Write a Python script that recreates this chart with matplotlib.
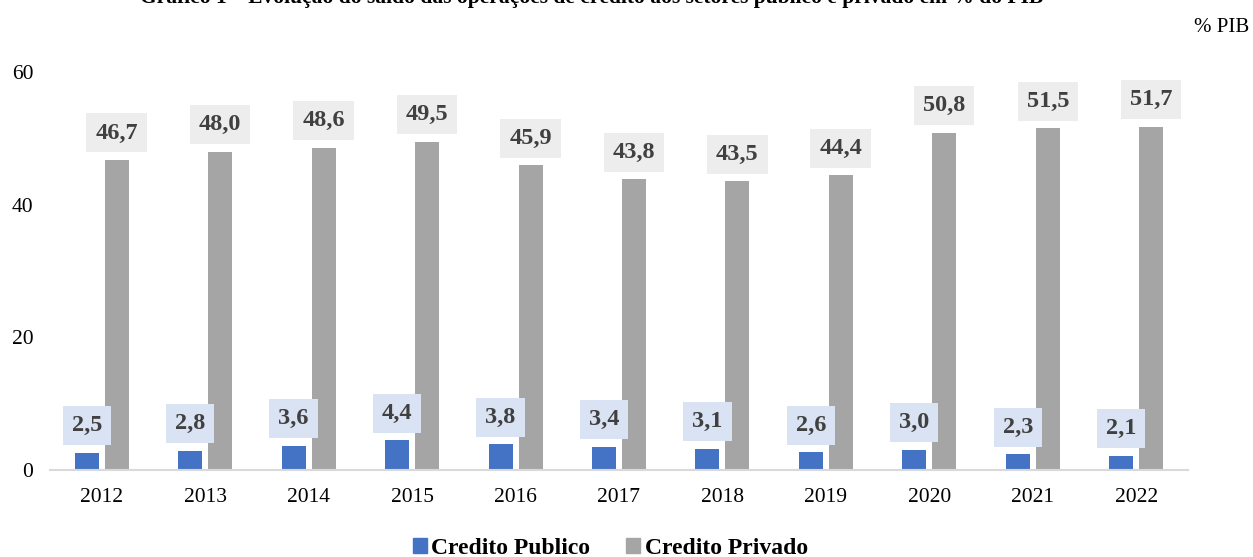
import numpy as np
import matplotlib
matplotlib.use("Agg")
import matplotlib.pyplot as plt
from matplotlib.patches import Patch

plt.rcParams['font.family'] = ['Liberation Serif', 'DejaVu Serif']

anos = ['2012', '2013', '2014', '2015', '2016', '2017', '2018', '2019', '2020', '2021', '2022']
credito_publico = [2.5, 2.8, 3.6, 4.4, 3.8, 3.4, 3.1, 2.6, 3.0, 2.3, 2.1]
credito_privado = [46.7, 48.0, 48.6, 49.5, 45.9, 43.8, 43.5, 44.4, 50.8, 51.5, 51.7]

AZUL = '#4472C4'
CINZA = '#A5A5A5'
TEXTO = '#404040'

fig = plt.figure(figsize=(12.53, 5.57), dpi=100)
ax = fig.add_axes([0.0399, 0.157, 0.9082, 0.7137])

x = np.arange(len(anos))
larg = 0.232
desl = 0.145

b1 = ax.bar(x - desl, credito_publico, larg, color=AZUL, zorder=2)
b2 = ax.bar(x + desl, credito_privado, larg, color=CINZA, zorder=2)


def rotulos(barras, valores, cor_caixa):
    for b, v in zip(barras, valores):
        ax.annotate(f"{v:.1f}".replace('.', ','),
                    (b.get_x() + b.get_width() / 2, v),
                    xytext=(0, 12), textcoords='offset points',
                    ha='center', va='bottom', fontsize=17.5, fontweight='bold',
                    color=TEXTO, clip_on=False, zorder=3,
                    bbox=dict(boxstyle='square,pad=0.37', fc=cor_caixa, ec='none'))


rotulos(b1, credito_publico, '#DAE3F3')
rotulos(b2, credito_privado, '#EDEDED')

ax.set_xlim(-0.5, len(anos) - 0.5)
ax.set_ylim(0, 60)
ax.set_yticks([0, 20, 40, 60])
ax.set_xticks(x)
ax.set_xticklabels(anos)
ax.tick_params(axis='both', length=0, labelsize=15.5, colors='black')
ax.tick_params(axis='y', pad=12)
ax.tick_params(axis='x', pad=13)

for lado in ['top', 'right', 'left']:
    ax.spines[lado].set_visible(False)
ax.spines['bottom'].set_color('#D9D9D9')
ax.spines['bottom'].set_linewidth(1.5)

fig.text(0.4725, 0.9955,
         'Gráfico 1 – Evolução do saldo das operações de crédito aos setores público e privado em % do PIB',
         ha='center', va='baseline', fontsize=15.5, fontweight='bold')
fig.text(0.997, 0.95, '% PIB', ha='right', va='center', fontsize=15)

alcas = [Patch(color=AZUL), Patch(color=CINZA)]
fig.legend(alcas, ['Credito Publico', 'Credito Privado'], loc='center',
           bbox_to_anchor=(0.487, 0.016), ncol=2, frameon=False,
           prop={'size': 17, 'weight': 'bold'},
           handlelength=0.6, handleheight=0.6, handletextpad=0.2, columnspacing=1.5)

fig.savefig('out.png', dpi=100)
